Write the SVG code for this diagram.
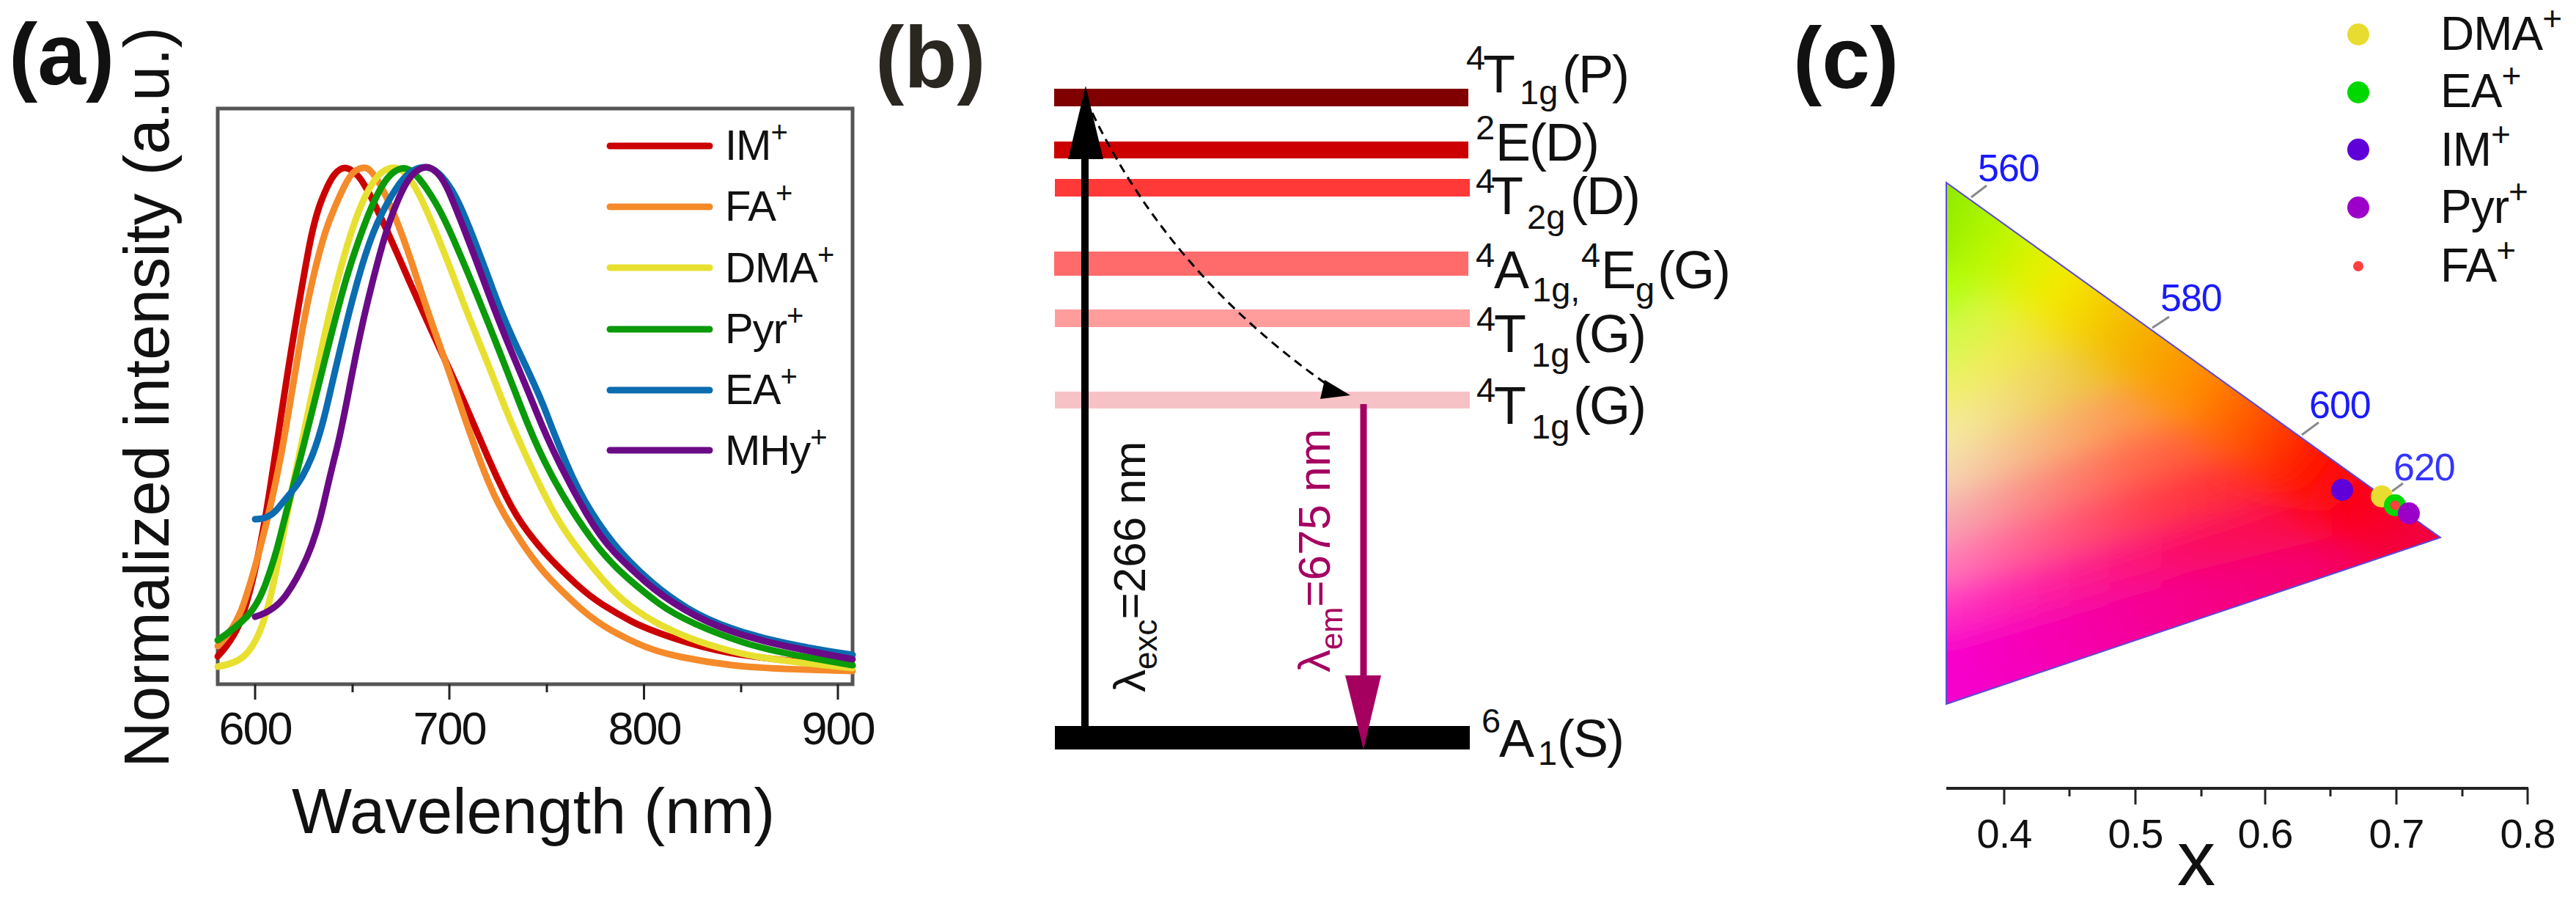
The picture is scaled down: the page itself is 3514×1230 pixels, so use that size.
<svg xmlns="http://www.w3.org/2000/svg" width="3514" height="1230" viewBox="0 0 3514 1230">
<style>
text{font-family:"Liberation Sans",Arial,sans-serif;fill:#111}
.panel{font-size:118px;font-weight:bold}
.axt{font-size:87px}
.tick{font-size:63px;letter-spacing:-2px;text-anchor:middle}
.leg{font-size:58px;letter-spacing:-1px}
.sp{font-size:40px}
.lv{font-size:72px;letter-spacing:-2px}
.s1{font-size:47px;letter-spacing:0}
.tc{font-size:56px;letter-spacing:-1px;text-anchor:middle}
.blue{font-size:52px;letter-spacing:-1px;fill:#1a1aff}
.lc{font-size:64px;letter-spacing:-1px}
.cur{fill:none;stroke-width:9;stroke-linejoin:round;stroke-linecap:round}
.tk{stroke:#222;stroke-width:3;fill:none}
.ld{stroke:#8a8a8a;stroke-width:3;fill:none}
</style>
<defs>
<clipPath id="tri"><polygon points="2655,249 3329,733 2655,960"/></clipPath>
<filter id="soft" filterUnits="userSpaceOnUse" x="2400" y="0" width="1114" height="1230"><feGaussianBlur stdDeviation="20"/></filter>
<filter id="soft2" filterUnits="userSpaceOnUse" x="2400" y="0" width="1114" height="1230"><feGaussianBlur stdDeviation="26"/></filter>
<linearGradient id="hyp" gradientUnits="userSpaceOnUse" x1="2655" y1="249" x2="3329" y2="733"><stop offset="0" stop-color="#8ce800"/><stop offset=".1" stop-color="#b0f800"/><stop offset=".24" stop-color="#f5ee00"/><stop offset=".39" stop-color="#f5b400"/><stop offset=".53" stop-color="#ff8c00"/><stop offset=".66" stop-color="#ff4800"/><stop offset=".76" stop-color="#ff1000"/><stop offset=".88" stop-color="#fa0020"/><stop offset="1" stop-color="#f00048"/></linearGradient>
<linearGradient id="g0"><stop offset=".5" stop-color="#8ce800"/><stop offset="1" stop-color="#a0f000"/></linearGradient>
<linearGradient id="g1"><stop offset=".3" stop-color="#b4ff10"/><stop offset="1" stop-color="#c8f800"/></linearGradient>
<linearGradient id="g2"><stop offset=".25" stop-color="#d8f850"/><stop offset="1" stop-color="#e8f000"/></linearGradient>
<linearGradient id="g3"><stop offset=".2" stop-color="#f2f070"/><stop offset=".6" stop-color="#f0e030"/><stop offset="1" stop-color="#f5e800"/></linearGradient>
<linearGradient id="g4"><stop offset=".17" stop-color="#f5e8a0"/><stop offset=".55" stop-color="#eec840"/><stop offset="1" stop-color="#f5b800"/></linearGradient>
<linearGradient id="g5"><stop offset=".13" stop-color="#f5d4b0"/><stop offset=".55" stop-color="#fb9c50"/><stop offset="1" stop-color="#ff8800"/></linearGradient>
<linearGradient id="g6"><stop offset=".12" stop-color="#f7a8b0"/><stop offset=".5" stop-color="#ff6c50"/><stop offset="1" stop-color="#ff4800"/></linearGradient>
<linearGradient id="g7"><stop offset=".1" stop-color="#ff78b8"/><stop offset=".5" stop-color="#ff3c48"/><stop offset="1" stop-color="#ff1000"/></linearGradient>
<linearGradient id="g8"><stop offset=".1" stop-color="#ff30c0"/><stop offset=".5" stop-color="#fa0c60"/><stop offset="1" stop-color="#fa0018"/></linearGradient>
<linearGradient id="g9"><stop offset=".08" stop-color="#f800cc"/><stop offset=".5" stop-color="#f50088"/><stop offset="1" stop-color="#f40040"/></linearGradient>
<linearGradient id="g10"><stop offset=".08" stop-color="#f500d0"/><stop offset=".55" stop-color="#f2008e"/><stop offset="1" stop-color="#f0004c"/></linearGradient>
</defs>
<rect width="3514" height="1230" fill="#fff"/>

<g id="panel-a">
<text class="panel" x="12" y="115">(a)</text>
<text class="axt" transform="translate(230,1047) rotate(-90)">Normalized intensity (a.u.)</text>
<text class="axt" x="398" y="1136">Wavelength (nm)</text>
<rect x="297" y="148" width="866" height="785" fill="none" stroke="#555" stroke-width="5"/>
<path class="tk" d="M348 933v21M613 933v21M878.500 933v21M1143 933v21M481 933v11M746 933v11M1011 933v11"/>
<text class="tick" x="348" y="1015">600</text><text class="tick" x="613" y="1015">700</text><text class="tick" x="879" y="1015">800</text><text class="tick" x="1143" y="1015">900</text>
</g>

<g id="connectors">
<g id="curves">
<path class="cur" stroke="#cc0000" d="M297 895Q321 869 331 839Q341 809 350.500 765Q360 721 368.500 665.500Q377 610 385.500 553.500Q394 497 403.500 440Q413 383 421 340.500Q429 298 438.500 273.500Q448 249 455.500 239Q463 229 470.500 229Q478 229 487.500 239Q497 249 512.500 281.500Q528 314 543.500 349.500Q559 385 574 418.500Q589 452 608.500 494Q628 536 641 566.500Q654 597 665.500 623.500Q677 650 690.500 677Q704 704 719.500 724.500Q735 745 750 761Q765 777 784.500 795Q804 813 823 825Q842 837 861 847Q880 857 918.500 870Q957 883 995 890Q1033 897 1098 903L1163 909"/>
<path class="cur" stroke="#f58a2a" d="M297 881Q321 857 332.500 823Q344 789 355.500 744.500Q367 700 375.500 660Q384 620 391 578Q398 536 407.500 478.500Q417 421 428.500 373Q440 325 449.500 300.500Q459 276 468.500 256.500Q478 237 485.500 232.500Q493 228 499 229Q505 230 514.500 245Q524 260 537.500 292.500Q551 325 566.500 373Q582 421 597 463Q612 505 627.500 551Q643 597 658 636.500Q673 676 688.500 702.500Q704 729 719.500 751Q735 773 750 789Q765 805 784.500 823Q804 841 823 853Q842 865 868.500 877Q895 889 929.500 896Q964 903 998.500 907Q1033 911 1098 913L1163 915"/>
<path class="cur" stroke="#e8e030" d="M297 909Q321 905 332.500 895Q344 885 353.500 863Q363 841 371 805Q379 769 386.500 728.500Q394 688 403.500 642.500Q413 597 425.500 537.500Q438 478 448.500 431.500Q459 385 470.500 345.500Q482 306 491.500 283Q501 260 510.500 246.500Q520 233 530 230Q540 227 547.500 232Q555 237 564.500 252.500Q574 268 589.500 304.500Q605 341 620 381Q635 421 650.500 459Q666 497 681 535.500Q696 574 715.500 617Q735 660 750 688.500Q765 717 784.500 743Q804 769 823 791Q842 813 861 827Q880 841 899 851Q918 861 941 870Q964 879 998.500 888Q1033 897 1098 904L1163 911"/>
<path class="cur" stroke="#0a9a0a" d="M297 873Q321 857 336.500 841Q352 825 363.500 793Q375 761 382.500 730.500Q390 700 398 670Q406 640 419 588Q432 536 441.500 497.500Q451 459 461 421Q471 383 480.500 354Q490 325 499.500 300.500Q509 276 518.500 258.500Q528 241 537.500 234.500Q547 228 554.500 230Q562 232 572 244Q582 256 593.500 275.500Q605 295 620 329.500Q635 364 650.500 402Q666 440 681 478.500Q696 517 711.500 557Q727 597 742.500 628.500Q758 660 777 690.500Q796 721 815 745Q834 769 857 789Q880 809 899 823Q918 837 949 851Q980 865 1014 876Q1048 887 1105.500 897L1163 907"/>
<path class="cur" stroke="#0b6cb0" d="M348 708Q367 708 378.500 694Q390 680 401.500 666Q413 652 424.500 624.500Q436 597 447.500 547Q459 497 470.500 449.500Q482 402 493.500 363.500Q505 325 516.500 300.500Q528 276 539.500 258.500Q551 241 560.500 234.500Q570 228 579.500 228Q589 228 598.500 236.500Q608 245 618 262Q628 279 643 317.500Q658 356 673.500 398Q689 440 712 488Q735 536 746.500 566.500Q758 597 773 632.500Q788 668 807 698.500Q826 729 845.500 751Q865 773 888 793Q911 813 937.500 829Q964 845 998.500 857Q1033 869 1071.500 877Q1110 885 1136.500 889L1163 893"/>
<path class="cur" stroke="#6a0a86" d="M348 841Q375 833 390.500 811Q406 789 419 759Q432 729 441.500 687Q451 645 458 617.500Q465 590 477.500 524.500Q490 459 501.500 411.500Q513 364 522.500 331Q532 298 543.500 271.500Q555 245 564.500 236.500Q574 228 581.500 228Q589 228 597 236.500Q605 245 612.500 262Q620 279 635 317.500Q650 356 665.500 398Q681 440 700 485Q719 530 732.500 563.500Q746 597 763.500 632.500Q781 668 800 700.500Q819 733 838 753Q857 773 880 793Q903 813 933.500 831Q964 849 998.500 861Q1033 873 1071.500 881Q1110 889 1136.500 894L1163 899"/>
</g>
</g>

<g id="legend-a">
<line x1="832" y1="199" x2="968" y2="199" class="cur" stroke="#cc0000"/>
<line x1="832" y1="282" x2="968" y2="282" class="cur" stroke="#f58a2a"/>
<line x1="832" y1="365" x2="968" y2="365" class="cur" stroke="#e8e030"/>
<line x1="832" y1="449" x2="968" y2="449" class="cur" stroke="#0a9a0a"/>
<line x1="832" y1="532" x2="968" y2="532" class="cur" stroke="#0b6cb0"/>
<line x1="832" y1="614" x2="968" y2="614" class="cur" stroke="#6a0a86"/>
<text class="leg" x="989" y="218">IM<tspan class="sp" dy="-24">+</tspan></text>
<text class="leg" x="989" y="301">FA<tspan class="sp" dy="-24">+</tspan></text>
<text class="leg" x="989" y="385">DMA<tspan class="sp" dy="-24">+</tspan></text>
<text class="leg" x="989" y="468">Pyr<tspan class="sp" dy="-24">+</tspan></text>
<text class="leg" x="989" y="551">EA<tspan class="sp" dy="-24">+</tspan></text>
<text class="leg" x="989" y="634">MHy<tspan class="sp" dy="-24">+</tspan></text>
</g>

<g id="panel-b">
<text class="panel" x="1194" y="119" style="fill:#2a2620">(b)</text>
<g id="levels">
<rect x="1438" y="121" width="565" height="24" fill="#800000"/>
<rect x="1438" y="193" width="565" height="23" fill="#cc0000"/>
<rect x="1439" y="244" width="566" height="24" fill="#ff3838"/>
<rect x="1438" y="343" width="565" height="33" fill="#ff6b6b"/>
<rect x="1439" y="422" width="566" height="24" fill="#ff9c9c"/>
<rect x="1439" y="534" width="566" height="23" fill="#f7c2c6"/>
<rect x="1439" y="990" width="566" height="32" fill="#000"/>
</g>
<g id="arrows">
<line x1="1480" y1="990" x2="1480" y2="215" stroke="#000" stroke-width="10"/>
<polygon points="1481,117 1505,217 1457,217" fill="#000"/>
<path d="M1490 154Q1595 372 1807 522" fill="none" stroke="#000" stroke-width="3" stroke-dasharray="12 8"/>
<polygon points="1807,518 1842,539 1801,544" fill="#000"/>
<line x1="1860" y1="551" x2="1860" y2="925" stroke="#a50060" stroke-width="9"/>
<polygon points="1835,921 1884,921 1860,1022" fill="#a50060"/>
</g>
<g id="level-labels">
<text class="lv"><tspan class="s1" x="2000" y="95">4</tspan><tspan x="2023" y="126">T</tspan><tspan class="s1" x="2073" y="142">1g</tspan><tspan x="2131" y="126">(P)</tspan></text>
<text class="lv"><tspan class="s1" x="2013" y="190">2</tspan><tspan x="2040" y="219">E(D)</tspan></text>
<text class="lv"><tspan class="s1" x="2013" y="263">4</tspan><tspan x="2034" y="292">T</tspan><tspan class="s1" x="2083" y="312">2g</tspan><tspan x="2142" y="292">(D)</tspan></text>
<text class="lv"><tspan class="s1" x="2013" y="364">4</tspan><tspan x="2038" y="393">A</tspan><tspan class="s1" x="2090" y="411">1g,</tspan><tspan class="s1" x="2157" y="364">4</tspan><tspan x="2184" y="393">E</tspan><tspan class="s1" x="2231" y="411">g</tspan><tspan x="2261" y="393">(G)</tspan></text>
<text class="lv"><tspan class="s1" x="2014" y="451">4</tspan><tspan x="2038" y="480">T</tspan><tspan class="s1" x="2089" y="500">1g</tspan><tspan x="2146" y="480">(G)</tspan></text>
<text class="lv"><tspan class="s1" x="2014" y="548">4</tspan><tspan x="2038" y="578">T</tspan><tspan class="s1" x="2089" y="598">1g</tspan><tspan x="2146" y="578">(G)</tspan></text>
<text class="lv"><tspan class="s1" x="2021" y="999">6</tspan><tspan x="2045" y="1032">A</tspan><tspan class="s1" x="2098" y="1043">1</tspan><tspan x="2124" y="1032">(S)</tspan></text>
</g>
<text transform="translate(1562,944) rotate(-90)" font-size="62">λ<tspan font-size="44" dy="16">exc</tspan><tspan dy="-16">=266 nm</tspan></text>
<text transform="translate(1814,917) rotate(-90)" font-size="62" style="fill:#a50060">λ<tspan font-size="42" dy="17">em</tspan><tspan dy="-17">=675 nm</tspan></text>
</g>

<g id="panel-c">
<text class="panel" x="2446" y="120">(c)</text>
<g id="gamut" clip-path="url(#tri)">
<g filter="url(#soft)">
<rect x="2560" y="150" width="900" height="900" fill="#f00070"/>
<polygon fill="url(#g0)" points="2595,150 2720,150 2765,254 2655,356 2595,356"/>
<polygon fill="url(#g1)" points="2595,356 2655,356 2765,254 2825,297 2655,440 2595,440"/>
<polygon fill="url(#g2)" points="2595,440 2655,440 2825,297 2875,333 2655,514 2595,514"/>
<polygon fill="url(#g3)" points="2595,514 2655,514 2875,333 2955,391 2655,570 2595,570"/>
<polygon fill="url(#g4)" points="2595,570 2655,570 2955,391 3048,457 2655,625 2595,625"/>
<polygon fill="url(#g5)" points="2595,625 2655,625 3048,457 3135,519 2655,680 2595,680"/>
<polygon fill="url(#g6)" points="2595,680 2655,680 3135,519 3205,570 2655,740 2595,740"/>
<polygon fill="url(#g7)" points="2595,740 2655,740 3205,570 3285,627 2655,800 2595,800"/>
<polygon fill="url(#g8)" points="2595,800 2655,800 3285,627 3400,680 2655,860 2595,860"/>
<polygon fill="url(#g9)" points="2595,860 2655,860 3400,680 3400,780 2655,930 2595,930"/>
<polygon fill="url(#g10)" points="2595,930 2655,930 3400,780 3400,850 2655,1040 2595,1040"/>
</g>
<line x1="2620" y1="224" x2="3380" y2="770" stroke="url(#hyp)" stroke-width="150" filter="url(#soft2)"/>
</g>
<polygon points="2655,249 3329,733 2655,960" fill="none" stroke="#5a4ad8" stroke-width="2"/>
<path class="ld" d="M2689 269L2710 253M2936 447L2959 432M3140 593L3163 576M3263 670L3278 659"/>
<text class="blue" x="2698" y="247">560</text>
<text class="blue" x="2947" y="424">580</text>
<text class="blue" x="3150" y="570">600</text>
<text class="blue" x="3265" y="655" style="fill:#3535ff">620</text>
<g id="points">
<circle cx="3195" cy="668" r="15" fill="#6000d8"/>
<circle cx="3249" cy="677" r="15" fill="#e8dc30"/>
<circle cx="3267" cy="689" r="15" fill="#00d800"/>
<circle cx="3267" cy="689" r="6.500" fill="#ff4040"/>
<circle cx="3286" cy="700" r="15" fill="#9c00c8"/>
</g>
<g id="legend-c">
<circle cx="3217" cy="47" r="15" fill="#e8dc30"/>
<circle cx="3217" cy="126" r="15" fill="#00d800"/>
<circle cx="3217" cy="204" r="15" fill="#6000d8"/>
<circle cx="3217" cy="283" r="15" fill="#9c00c8"/>
<circle cx="3217" cy="363" r="7" fill="#ff4040"/>
<text class="lc" x="3329" y="68">DMA<tspan font-size="46" dy="-27">+</tspan></text>
<text class="lc" x="3329" y="146">EA<tspan font-size="46" dy="-27">+</tspan></text>
<text class="lc" x="3329" y="226">IM<tspan font-size="46" dy="-27">+</tspan></text>
<text class="lc" x="3329" y="304">Pyr<tspan font-size="46" dy="-27">+</tspan></text>
<text class="lc" x="3329" y="384">FA<tspan font-size="46" dy="-27">+</tspan></text>
</g>
<g id="axis-c">
<line x1="2655" y1="1075" x2="3449" y2="1075" stroke="#222" stroke-width="4"/>
<path class="tk" d="M2734 1075v22M2913 1075v22M3090 1075v22M3269 1075v22M3448 1075v22M2823 1075v11M3003 1075v11M3179 1075v11M3359 1075v11"/>
<text class="tc" x="2734" y="1156">0.4</text><text class="tc" x="2913" y="1156">0.5</text><text class="tc" x="3090" y="1156">0.6</text><text class="tc" x="3269" y="1156">0.7</text><text class="tc" x="3448" y="1156">0.8</text>
<text x="2996" y="1207" font-size="105" text-anchor="middle">x</text>
</g>
</g>
</svg>
